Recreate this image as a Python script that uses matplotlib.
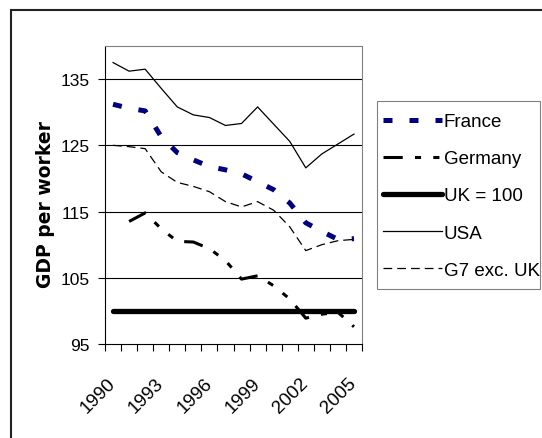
import numpy as np
import matplotlib
matplotlib.use("Agg")
import matplotlib.pyplot as plt
from matplotlib.patches import Rectangle
from matplotlib.transforms import ScaledTranslation

years = list(range(1990, 2006))
france = [131.2, 130.6, 130.2, 126.3, 123.9, 122.8, 121.8, 121.3, 120.7, 119.5, 118.3, 116.3, 113.3, 112.0, 110.8, 110.9]
germany = [np.nan, 113.5, 114.8, 112.4, 110.5, 110.4, 109.4, 107.6, 104.8, 105.3, 103.8, 101.8, 98.9, 99.5, 99.8, 97.6]
uk = [100] * 16
usa = [137.5, 136.2, 136.5, 133.6, 130.8, 129.6, 129.2, 128.0, 128.3, 130.8, 128.2, 125.6, 121.6, 123.7, 125.2, 126.7]
g7 = [125.0, 124.8, 124.5, 121.0, 119.4, 118.8, 118.0, 116.5, 115.7, 116.5, 115.2, 112.7, 109.1, 110.0, 110.6, 110.8]
yticks = [95, 105, 115, 125, 135]
xlabel_years = [1990, 1993, 1996, 1999, 2002, 2005]

W, H = 542, 439
fig = plt.figure(figsize=(W / 100, H / 100), dpi=100)
# outer chart frame
fig.patches.append(Rectangle((11 / W, -0.05), 1.2, (H - 11) / H + 0.05,
                             transform=fig.transFigure, fill=False,
                             edgecolor="#222222", linewidth=1.5))

ax = fig.add_axes([105 / W, (H - 345) / H, 257 / W, 298 / H])
x = np.arange(len(years))

ax.plot(x, france, color="#000080", linewidth=3.6, dashes=(1.8, 3.4),
        solid_capstyle="butt", dash_capstyle="butt", label="France")
ax.plot(x, germany, color="black", linewidth=2.2, dashes=(6.3, 4.0, 2.0, 4.0, 2.0, 4.0),
        dash_capstyle="butt", label="Germany")
ax.plot(x, uk, color="black", linewidth=3.8, solid_capstyle="round", label="UK = 100")
ax.plot(x, usa, color="black", linewidth=0.9, label="USA")
ax.plot(x, g7, color="black", linewidth=0.9, dashes=(7, 4), label="G7 exc. UK")

ax.set_xlim(-0.5, len(years) - 0.5)
ax.set_ylim(95, 140)
ax.set_yticks(yticks)
ax.set_yticklabels([str(v) for v in yticks], family="Liberation Sans", fontsize=12.5)
for v in yticks[1:]:
    ax.axhline(v, color="black", linewidth=0.8, zorder=0)

ax.set_xticks(np.arange(-0.5, len(years)), minor=False)
ax.set_xticklabels([])
ax.set_xticks([years.index(y) for y in xlabel_years], minor=True)
xl = ax.set_xticklabels([str(y) for y in xlabel_years], minor=True, rotation=45,
                        ha="right", va="center", rotation_mode="anchor",
                        family="Liberation Sans", fontsize=13.5)
shift = ScaledTranslation(-4 / 100, 0, fig.dpi_scale_trans)
for t in xl:
    t.set_transform(t.get_transform() + shift)
ax.tick_params(axis="x", which="major", length=5, width=0.8, direction="out")
ax.tick_params(axis="x", which="minor", length=0, pad=26)
ax.tick_params(axis="y", length=5, width=0.8, direction="out", pad=6)

ax.spines["left"].set_color("black")
ax.spines["bottom"].set_color("black")
ax.spines["top"].set_color("#808080")
ax.spines["right"].set_color("#808080")
for s in ax.spines.values():
    s.set_linewidth(0.8)

fig.text(46 / W, (H - 204) / H, "GDP per worker", rotation=90,
         ha="center", va="center", fontsize=13.5, fontweight="bold",
         family="DejaVu Sans")

# legend box drawn separately so its paddings can match the original
fig.patches.append(Rectangle((377 / W, (H - 290) / H), 163 / W, 188 / H,
                             transform=fig.transFigure, fill=False,
                             edgecolor="#808080", linewidth=0.8))
leg = fig.legend(loc="upper left", bbox_to_anchor=(383 / W, (H - 114) / H),
                 prop={"family": "Liberation Sans", "size": 13.5}, frameon=False,
                 handlelength=3.15, handletextpad=0.1,
                 labelspacing=1.07, borderpad=0, borderaxespad=0)

fig.savefig("out.png", dpi=100)
